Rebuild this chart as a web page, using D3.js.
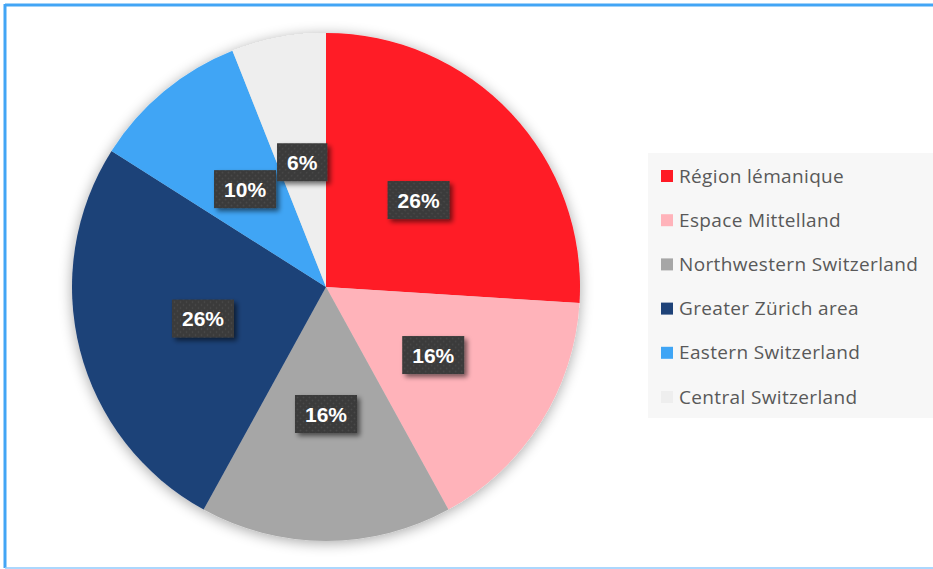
<!DOCTYPE html>
<html>
<head>
<meta charset="utf-8">
<script src="https://cdn.jsdelivr.net/npm/d3@7"></script>
<style>
  html, body { margin: 0; padding: 0; background: #ffffff; }
  svg { display: block; }
</style>
</head>
<body>
<svg id="chart" width="933" height="569"></svg>
<script>
// Share of companies by Swiss region (percent)
const regions = ["Région lémanique", "Espace Mittelland", "Northwestern Switzerland",
                 "Greater Zürich area", "Eastern Switzerland", "Central Switzerland"];
const shares = [26, 16, 16, 26, 10, 6];
const colors = ["#ff1a25", "#ffb3ba", "#a6a6a6", "#1e4278", "#3fa5f5", "#eeeeee"];

const data = regions.map((r, i) => ({ region: r, value: shares[i], color: colors[i] }));

const svg = d3.select("#chart");
const W = 933, H = 569;

const defs = svg.append("defs");

// soft halo under the pie
const halo = defs.append("filter").attr("id", "halo")
  .attr("x", "-20%").attr("y", "-20%").attr("width", "140%").attr("height", "140%");
halo.append("feGaussianBlur").attr("in", "SourceAlpha").attr("stdDeviation", 7).attr("result", "b");
halo.append("feOffset").attr("in", "b").attr("dx", 0).attr("dy", 2).attr("result", "o");
halo.append("feComponentTransfer").attr("in", "o").attr("result", "s")
  .append("feFuncA").attr("type", "linear").attr("slope", 0.35);
const hm = halo.append("feMerge");
hm.append("feMergeNode").attr("in", "s");
hm.append("feMergeNode").attr("in", "SourceGraphic");

// drop shadow for the value tags
const tagShadow = defs.append("filter").attr("id", "tagShadow")
  .attr("x", "-30%").attr("y", "-30%").attr("width", "170%").attr("height", "170%");
tagShadow.append("feGaussianBlur").attr("in", "SourceAlpha").attr("stdDeviation", 2.5).attr("result", "b");
tagShadow.append("feOffset").attr("in", "b").attr("dx", 3).attr("dy", 3).attr("result", "o");
tagShadow.append("feComponentTransfer").attr("in", "o").attr("result", "s")
  .append("feFuncA").attr("type", "linear").attr("slope", 0.55);
const tm = tagShadow.append("feMerge");
tm.append("feMergeNode").attr("in", "s");
tm.append("feMergeNode").attr("in", "SourceGraphic");

// dotted texture for the value tags
const pat = defs.append("pattern").attr("id", "dots")
  .attr("patternUnits", "userSpaceOnUse").attr("width", 6).attr("height", 6);
pat.append("rect").attr("width", 6).attr("height", 6).attr("fill", "#3a3a3a");
pat.append("circle").attr("cx", 1.5).attr("cy", 1.5).attr("r", 0.9).attr("fill", "#4a4a4a");
pat.append("circle").attr("cx", 4.5).attr("cy", 4.5).attr("r", 0.9).attr("fill", "#4a4a4a");

// frame
svg.append("line").attr("x1", 5).attr("x2", W).attr("y1", 5).attr("y2", 5)
  .attr("stroke", "#42a5f5").attr("stroke-width", 3);
svg.append("line").attr("x1", 5).attr("x2", 5).attr("y1", 4).attr("y2", 568)
  .attr("stroke", "#42a5f5").attr("stroke-width", 3);
svg.append("line").attr("x1", 5).attr("x2", W).attr("y1", 568).attr("y2", 568)
  .attr("stroke", "#90cafd").attr("stroke-width", 1.5);

// pie
const cx = 326, cy = 287, R = 254;
const pie = d3.pie().value(d => d.value).sort(null);
const arc = d3.arc().innerRadius(0).outerRadius(R);
const labelArc = d3.arc().innerRadius(R * 0.5).outerRadius(R * 0.5);
const arcs = pie(data);

const g = svg.append("g").attr("transform", `translate(${cx},${cy})`);
g.append("g").attr("filter", "url(#halo)")
  .selectAll("path").data(arcs).join("path")
  .attr("d", arc)
  .attr("fill", d => d.data.color);

// value tags
const tags = g.append("g").selectAll("g").data(arcs).join("g")
  .attr("transform", d => `translate(${labelArc.centroid(d)})`);
tags.each(function (d) {
  const t = d3.select(this);
  const label = d3.format(".0f")(d.data.value) + "%";
  const txt = t.append("text")
    .attr("text-anchor", "middle").attr("dy", "0.36em")
    .attr("font-family", "Liberation Sans, Arial, sans-serif")
    .attr("font-weight", "bold").attr("font-size", 21)
    .attr("fill", "#ffffff").text(label);
  const w = txt.node().getComputedTextLength() + 20;
  const h = 38;
  t.insert("rect", "text")
    .attr("x", -w / 2).attr("y", -h / 2).attr("width", w).attr("height", h)
    .attr("fill", "url(#dots)").attr("filter", "url(#tagShadow)");
});

// legend
const lg = svg.append("g").attr("transform", "translate(648,153)");
lg.append("rect").attr("width", 285).attr("height", 265).attr("fill", "#f7f7f7");
const rowY = d3.scalePoint().domain(regions).range([23, 244]);
const items = lg.selectAll("g.item").data(data).join("g").attr("class", "item")
  .attr("transform", d => `translate(13,${rowY(d.region)})`);
items.append("rect").attr("x", 0).attr("y", -6).attr("width", 12).attr("height", 12)
  .attr("fill", d => d.color);
items.append("text").attr("x", 18).attr("dy", "0.35em")
  .attr("font-family", "'Open Sans', sans-serif").attr("font-size", 19)
  .attr("letter-spacing", 0.35)
  .attr("fill", "#595959").text(d => d.region);
</script>
</body>
</html>
